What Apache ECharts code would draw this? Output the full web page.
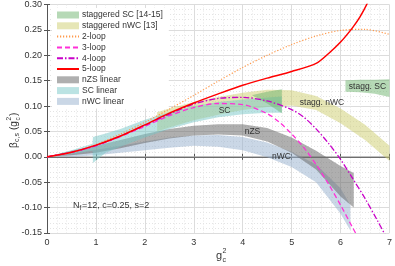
<!DOCTYPE html>
<html><head><meta charset="utf-8">
<script src="https://cdn.jsdelivr.net/npm/echarts@6/dist/echarts.min.js"></script>
<style>html,body{margin:0;padding:0;background:#fff}#c{width:395px;height:266px}</style>
</head><body><div id="c"></div>
<script>
const FONT = '"Liberation Sans", Arial, Helvetica, sans-serif';

// ---- perturbative curves ----
const loopG2 = [0,0.5,1,1.5,2,2.5,3,3.5,4,4.5,5,5.5,6,6.5,7];
const loop2  = [0,0.008,0.024,0.045,0.068,0.094,0.121,0.149,0.176,0.200,0.221,0.238,0.249,0.251,0.241];
const loopG3 = [0,0.5,1,1.5,2,2.5,3,3.5,4,4.5,4.75,5,5.25,5.5,5.75,6,6.25,6.45];
const loop3  = [0,0.009,0.022,0.040,0.060,0.081,0.097,0.105,0.103,0.085,0.068,0.045,0.018,-0.015,-0.053,-0.095,-0.140,-0.175];
const loopG4 = [0,0.5,1,1.5,2,2.5,3,3.5,4,4.5,5,5.25,5.5,5.75,6,6.25,6.5,6.75,7];
const loop4  = [0,0.009,0.022,0.041,0.062,0.084,0.104,0.115,0.117,0.110,0.093,0.078,0.055,0.027,-0.005,-0.043,-0.082,-0.125,-0.170];
const loopG5 = [0,0.5,1,1.5,2,2.5,3,3.5,4,4.5,5,5.5,5.75,6,6.25,6.4,6.55,6.65];
const loop5  = [0,0.009,0.023,0.041,0.063,0.086,0.106,0.124,0.141,0.155,0.168,0.184,0.203,0.226,0.255,0.276,0.303,0.325];

// ---- bands ----
const staggSCG1  = [4.2,4.5,4.8];
const staggSCLo1 = [0.121,0.105,0.086];
const staggSCHi1 = [0.122,0.128,0.133];
const staggSCG2  = [6.1,6.4,6.7,7.0];
const staggSCLo2 = [0.128,0.127,0.124,0.118];
const staggSCHi2 = [0.151,0.152,0.152,0.153];

const staggNWCG  = [2.25,2.5,3,3.5,4,4.5,5,5.5,6,6.5,7];
const staggNWCHi = [0.088,0.095,0.108,0.118,0.126,0.132,0.131,0.120,0.095,0.063,0.022];
const staggNWCLo = [0.050,0.058,0.072,0.083,0.092,0.098,0.101,0.092,0.066,0.033,-0.008];

const scG  = [0,0.5,0.93,0.94,1.2,1.5,2,2.5,3,3.5,4,4.5,4.8];
const scLo = [0,0.005,0.012,-0.012,0.008,0.020,0.038,0.055,0.068,0.078,0.084,0.087,0.087];
const scHi = [0,0.013,0.026,0.039,0.046,0.055,0.073,0.088,0.100,0.108,0.113,0.117,0.119];

const nzsG  = [0,0.5,1,1.5,2,2.5,3,3.5,4,4.5,5,5.5,6,6.27];
const nzsLo = [0,0.003,0.008,0.017,0.027,0.036,0.042,0.044,0.042,0.030,0.008,-0.025,-0.078,-0.100];
const nzsHi = [0,0.012,0.022,0.033,0.045,0.055,0.061,0.064,0.064,0.057,0.038,0.012,-0.018,-0.032];

const nwcG  = [0,0.5,1,1.5,2,2.5,3,3.5,4,4.5,5,5.5,6,6.2];
const nwcLo = [0,0.0,0.003,0.008,0.013,0.018,0.022,0.020,0.013,-0.001,-0.020,-0.050,-0.112,-0.145];
const nwcHi = [0,0.007,0.014,0.022,0.030,0.038,0.042,0.043,0.039,0.028,0.010,-0.015,-0.062,-0.095];

const zeroG = [0,7];
const zeroV = [0,0];

// ---- annotations ----
const annText = ['SC','nZS','nWC','stagg. nWC','stagg. SC'];
const annG    = [3.63,4.20,4.79,5.62,6.55];
const annV    = [0.090,0.049,0.000,0.106,0.139];
const noteG = 0.53, noteV = -0.096;

// ---- axes ----
const xMin = 0, xMax = 7, xStep = 1;
const yMin = -0.15, yMax = 0.30, yStep = 0.05;

function pairs(g, v){ return g.map((x,i)=>[x, v[i]]); }

function bandSeries(name, color, segs, z){
  const data = [];
  segs.forEach(s => s.g.forEach((g,i)=>data.push([g, s.lo[i], s.hi[i]])));
  return {
    type:'custom', name, z, clip:true,
    itemStyle:{color},
    encode:{x:0, y:[1,2]},
    data,
    renderItem(params, api){
      if (params.dataIndex !== 0) return null;
      const children = segs.map(s => {
        const top = s.g.map((g,i)=>api.coord([g, s.hi[i]]));
        const bot = s.g.map((g,i)=>api.coord([g, s.lo[i]])).reverse();
        return {type:'polygon', shape:{points: top.concat(bot)}, style:{fill: color}};
      });
      return {type:'group', children};
    }
  };
}

function lineSeries(name, g, v, color, type, width, z){
  return {type:'line', name, data:pairs(g,v), symbol:'none', smooth:0.3, z,
    lineStyle:{color, type, width}, itemStyle:{color}, emphasis:{disabled:true}};
}

const noSym = {opacity:0};

const chart = echarts.init(document.getElementById('c'));
chart.setOption({
  animation:false,
  grid:{left:47, right:3, top:3, bottom:33},
  xAxis:[{
    type:'value', min:xMin, max:xMax, interval:xStep,
    axisLine:{show:true, lineStyle:{color:'#555', width:1}},
    axisTick:{show:true, inside:true, length:3, lineStyle:{color:'#555'}},
    axisLabel:{color:'#333', fontSize:9, fontFamily:FONT, margin:5},
    splitLine:{show:true, lineStyle:{color:'#dcdcdc', width:1}},
    minorTick:{show:false, splitNumber:5},
    minorSplitLine:{show:true, lineStyle:{color:'#e4e4e4', type:[1,2], width:1}}
  },{
    type:'value', position:'top', min:xMin, max:xMax, interval:xStep,
    axisLine:{show:true, lineStyle:{color:'#555'}},
    axisTick:{show:true, inside:true, length:3, lineStyle:{color:'#555'}},
    axisLabel:{show:false}, splitLine:{show:false}
  }],
  yAxis:[{
    type:'value', min:yMin, max:yMax, interval:yStep,
    axisLine:{show:true, lineStyle:{color:'#555', width:1}},
    axisTick:{show:true, inside:true, length:3, lineStyle:{color:'#555'}},
    axisLabel:{color:'#333', fontSize:9, fontFamily:FONT, margin:5, formatter:v=>v.toFixed(2)},
    splitLine:{show:true, lineStyle:{color:'#dcdcdc', width:1}},
    minorTick:{show:false, splitNumber:5},
    minorSplitLine:{show:true, lineStyle:{color:'#e4e4e4', type:[1,2], width:1}}
  },{
    type:'value', position:'right', min:yMin, max:yMax, interval:yStep,
    axisLine:{show:true, lineStyle:{color:'#555'}},
    axisTick:{show:true, inside:true, length:3, lineStyle:{color:'#555'}},
    axisLabel:{show:false}, splitLine:{show:false}
  }],
  legend:{
    orient:'vertical', left:52, top:8, padding:[2,6,2,4],
    backgroundColor:'#fff',
    itemWidth:22, itemHeight:7, itemGap:0.8,
    textStyle:{fontSize:8.5, fontFamily:FONT, color:'#333', lineHeight:10, padding:[0,0,0,-2]},
    data:[
      {name:'staggered SC [14-15]', icon:'rect'},
      {name:'staggered nWC [13]', icon:'rect'},
      {name:'2-loop', itemStyle:noSym},
      {name:'3-loop', itemStyle:noSym},
      {name:'4-loop', itemStyle:noSym},
      {name:'5-loop', itemStyle:noSym},
      {name:'nZS linear', icon:'rect'},
      {name:'SC linear', icon:'rect'},
      {name:'nWC linear', icon:'rect'}
    ]
  },
  series:[
    {type:'line', name:'zero', data:pairs(zeroG, zeroV), symbol:'none', z:1,
      lineStyle:{color:'#a0a0a0', width:1}, silent:true},
    bandSeries('nWC linear', 'rgba(150,176,205,0.5)', [{g:nwcG, lo:nwcLo, hi:nwcHi}], 2),
    bandSeries('nZS linear', 'rgba(110,110,110,0.55)', [{g:nzsG, lo:nzsLo, hi:nzsHi}], 2),
    bandSeries('staggered nWC [13]', 'rgba(205,205,110,0.5)', [{g:staggNWCG, lo:staggNWCLo, hi:staggNWCHi}], 2),
    bandSeries('SC linear', 'rgba(120,200,200,0.5)', [{g:scG, lo:scLo, hi:scHi}], 2),
    bandSeries('staggered SC [14-15]', 'rgba(110,180,110,0.5)', [
      {g:staggSCG1, lo:staggSCLo1, hi:staggSCHi1},
      {g:staggSCG2, lo:staggSCLo2, hi:staggSCHi2}], 2),
    lineSeries('2-loop', loopG2, loop2, '#ff9a4d', [1.2,1.8], 1.2, 4),
    lineSeries('3-loop', loopG3, loop3, '#ff30d8', [5,3], 1.3, 4),
    lineSeries('4-loop', loopG4, loop4, '#c800c8', [6,2,1.5,2], 1.3, 4),
    lineSeries('5-loop', loopG5, loop5, '#ff0000', 'solid', 1.5, 5),
    {
      type:'custom', z:6, silent:true,
      data: annG.map((g,i)=>[g, annV[i]]),
      encode:{x:0, y:1},
      renderItem(params, api){
        const p = api.coord([api.value(0), api.value(1)]);
        return {type:'text', x:p[0], y:p[1], style:{text:annText[params.dataIndex], fill:'#333',
          font:'8.5px '+FONT, align:'center', verticalAlign:'middle'}};
      }
    },
    {
      type:'custom', z:6, silent:true,
      data:[[noteG, noteV]],
      encode:{x:0, y:1},
      renderItem(params, api){
        const p = api.coord([api.value(0), api.value(1)]);
        return {type:'group', children:[
          {type:'text', x:p[0], y:p[1], style:{text:'N', fill:'#333', font:'9px '+FONT, align:'left', verticalAlign:'middle'}},
          {type:'text', x:p[0]+6.5, y:p[1]+3, style:{text:'f', fill:'#333', font:'6.5px '+FONT, align:'left', verticalAlign:'middle'}},
          {type:'text', x:p[0]+9, y:p[1], style:{text:'=12, c=0.25, s=2', fill:'#333', font:'9px '+FONT, align:'left', verticalAlign:'middle'}}
        ]};
      }
    }
  ],
  graphic:[
    {type:'group', x:216, y:256, children:[
      {type:'text', x:0, y:0, style:{text:'g', fill:'#333', font:'11px '+FONT, align:'left', verticalAlign:'middle'}},
      {type:'text', x:6.5, y:-5, style:{text:'2', fill:'#333', font:'7px '+FONT, align:'left', verticalAlign:'middle'}},
      {type:'text', x:6.5, y:4.5, style:{text:'c', fill:'#333', font:'7px '+FONT, align:'left', verticalAlign:'middle'}}
    ]},
    {type:'group', x:14, y:127, rotation:Math.PI/2, children:[
      {type:'text', x:-21, y:0, style:{text:'β', fill:'#333', font:'10px '+FONT, align:'left', verticalAlign:'middle'}},
      {type:'text', x:-15, y:3, style:{text:'c,s', fill:'#333', font:'7px '+FONT, align:'left', verticalAlign:'middle'}},
      {type:'text', x:-3, y:0, style:{text:'(g', fill:'#333', font:'10px '+FONT, align:'left', verticalAlign:'middle'}},
      {type:'text', x:6.5, y:-4.5, style:{text:'2', fill:'#333', font:'6.5px '+FONT, align:'left', verticalAlign:'middle'}},
      {type:'text', x:6.5, y:4, style:{text:'c', fill:'#333', font:'6.5px '+FONT, align:'left', verticalAlign:'middle'}},
      {type:'text', x:11, y:0, style:{text:')', fill:'#333', font:'10px '+FONT, align:'left', verticalAlign:'middle'}}
    ]}
  ]
});
</script></body></html>
